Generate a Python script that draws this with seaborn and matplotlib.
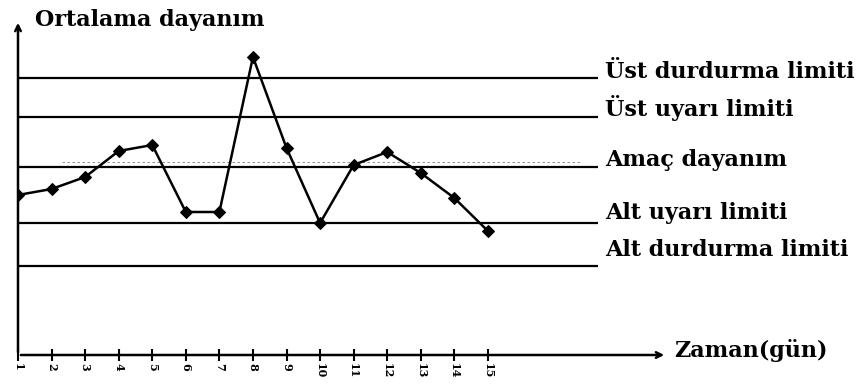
import numpy as np
import pandas as pd
import seaborn as sns
import matplotlib.pyplot as plt

# Gün ve ortalama dayanım değerleri
gunler = list(range(1, 16))
dayanim = [16.0, 16.6, 17.8, 20.4, 21.0, 14.3, 14.3, 29.8, 20.7, 13.2, 19.0, 20.3, 18.2, 15.7, 12.4]

# Kontrol limitleri
limit_adlari = ['Üst durdurma limiti', 'Üst uyarı limiti', 'Amaç dayanım',
                'Alt uyarı limiti', 'Alt durdurma limiti']
limit_degerleri = [27.7, 23.8, 18.8, 13.2, 8.9]
etiket_kaydirma = [0.6, 0.9, 0.7, 1.0, 1.6]

df = pd.DataFrame({'gun': gunler, 'dayanim': dayanim})

sns.set_style('white')
plt.rcParams['font.family'] = ['DejaVu Serif']
plt.rcParams['font.weight'] = 'bold'
plt.rcParams['text.color'] = 'black'
plt.rcParams['xtick.color'] = 'black'

fig = plt.figure(figsize=(8.59, 3.92), dpi=100)
ax = fig.add_axes([18 / 859, 37 / 392, 580 / 859, 335 / 392])

# Yatay limit çizgileri
for ad, deger, kay in zip(limit_adlari, limit_degerleri, etiket_kaydirma):
    ax.axhline(deger, color='black', lw=1.6, zorder=1)
    ax.text(18.5, deger + kay, ad, fontsize=16, fontweight='bold',
            va='center', ha='left', clip_on=False)

# soluk kesikli çizgi (amaç seviyesinin hemen üstü)
ax.plot([2.3, 17.8], [19.3, 19.3], color='black', lw=0.6, ls=(0, (3, 3)), alpha=0.5)

sns.lineplot(data=df, x='gun', y='dayanim', color='black', lw=1.8,
             marker='D', markersize=6, markeredgecolor='black', ax=ax, zorder=3)

ax.set_xlim(1, 18.28)
ax.set_ylim(0, 33.5)
for s in ax.spines.values():
    s.set_visible(False)

# Eksen okları
ax.annotate('', xy=(649 / 580, 0), xytext=(0, 0), xycoords='axes fraction',
            arrowprops=dict(arrowstyle='->', lw=1.8, color='black'),
            annotation_clip=False)
ax.annotate('', xy=(0, 1.0), xytext=(0, 0), xycoords='axes fraction',
            arrowprops=dict(arrowstyle='->', lw=1.8, color='black'))

ax.set_xticks(gunler)
ax.set_xticklabels([str(g) for g in gunler], rotation=-90, fontsize=8, fontweight='bold')
ax.tick_params(axis='x', direction='inout', length=8, width=1.5, bottom=True, pad=2)
ax.set_yticks([])
ax.set_xlabel('')
ax.set_ylabel('')

ax.text(1.5, 33.5, 'Ortalama dayanım', fontsize=16, fontweight='bold',
        va='center', ha='left', clip_on=False)
ax.text(20.55, 0.5, 'Zaman(gün)', fontsize=16, fontweight='bold',
        va='center', ha='left', clip_on=False)

fig.savefig('out.png', dpi=100)
